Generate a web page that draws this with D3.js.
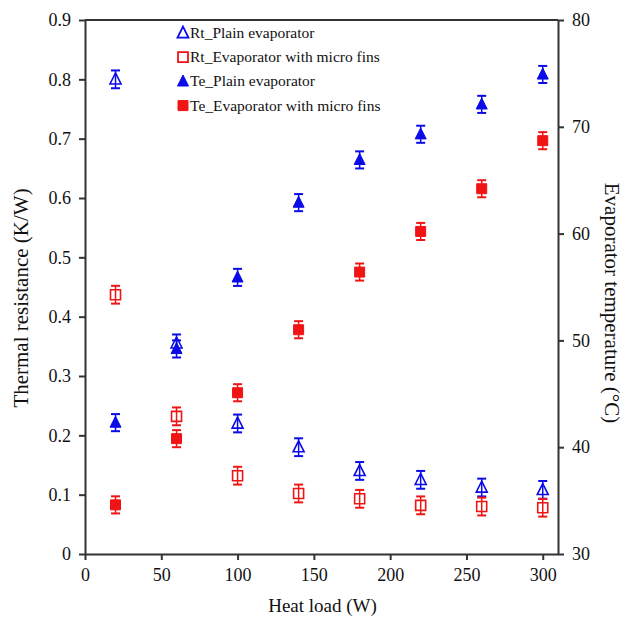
<!DOCTYPE html>
<html><head><meta charset="utf-8">
<script src="https://cdn.jsdelivr.net/npm/d3@7"></script>
<style>
html,body{margin:0;padding:0;background:#fff;}
svg text{font-family:"Liberation Serif","Times New Roman",serif;fill:#111;}
</style></head>
<body>
<svg id="chart" width="623" height="619"></svg>
<script>
const heatLoad = [20, 60, 100, 140, 180, 220, 260, 300];
const rtPlain = [0.800, 0.355, 0.220, 0.180, 0.140, 0.125, 0.112, 0.108];
const rtFins  = [0.437, 0.232, 0.132, 0.102, 0.093, 0.082, 0.080, 0.078];
const tePlain = [42.3, 49.2, 55.9, 62.9, 66.9, 69.3, 72.1, 74.9];
const teFins  = [34.6, 40.8, 45.1, 51.0, 56.4, 60.2, 64.2, 68.7];
const rtErr = 0.015;
const teErr = 0.8;
const xTicks = [0, 50, 100, 150, 200, 250, 300];
const yLeftTicks = [0, 0.1, 0.2, 0.3, 0.4, 0.5, 0.6, 0.7, 0.8, 0.9];
const yRightTicks = [30, 40, 50, 60, 70, 80];
const legendLabels = ["Rt_Plain evaporator", "Rt_Evaporator with micro fins", "Te_Plain evaporator", "Te_Evaporator with micro fins"];

const svg = d3.select("#chart");
const L = 85, R = 558, T = 20, B = 554;
const x = d3.scaleLinear().domain([0, 310]).range([L, R]);
const yL = d3.scaleLinear().domain([0, 0.9]).range([B, T]);
const yR = d3.scaleLinear().domain([30, 80]).range([B, T]);

const blue = "#0b0be8", red = "#f01414", axisCol = "#333";

// frame top
svg.append("line").attr("x1", L).attr("x2", R).attr("y1", T).attr("y2", T)
  .attr("stroke", axisCol).attr("stroke-width", 2);

function styleAxis(g) {
  g.select(".domain").attr("stroke", axisCol).attr("stroke-width", 2);
  g.selectAll(".tick line").attr("stroke", axisCol).attr("stroke-width", 2);
  g.selectAll(".tick text").attr("font-size", 18).attr("font-family", "Liberation Serif").attr("fill", "#111");
}

const gx = svg.append("g").attr("transform", `translate(0,${B})`)
  .call(d3.axisBottom(x).tickValues(xTicks).tickSize(6).tickSizeOuter(0).tickPadding(8).tickFormat(d3.format("d")));
styleAxis(gx);

const gyl = svg.append("g").attr("transform", `translate(${L},0)`)
  .call(d3.axisLeft(yL).tickValues(yLeftTicks).tickSize(6).tickSizeOuter(0).tickPadding(8).tickFormat(d => d === 0 ? "0" : d3.format(".1f")(d)));
styleAxis(gyl);

const gyr = svg.append("g").attr("transform", `translate(${R},0)`)
  .call(d3.axisRight(yR).tickValues(yRightTicks).tickSize(6).tickSizeOuter(0).tickPadding(8).tickFormat(d3.format("d")));
styleAxis(gyr);

// titles
svg.append("text").attr("x", (L + R) / 2 + 1).attr("y", 612).attr("text-anchor", "middle")
  .attr("font-size", 19).text("Heat load (W)");
svg.append("text").attr("transform", `translate(28,298) rotate(-90)`).attr("text-anchor", "middle")
  .attr("font-size", 21).text("Thermal resistance (K/W)");
svg.append("text").attr("transform", `translate(605,303) rotate(90)`).attr("text-anchor", "middle")
  .attr("font-size", 21).text("Evaporator temperature (\u00B0C)");

const triPath = s => `M0,${-s * 0.58}L${s * 0.5},${s * 0.42}L${-s * 0.5},${s * 0.42}Z`;
const sqPath = s => `M${-s / 2},${-s / 2}h${s}v${s}h${-s}Z`;

const series = [
  { vals: rtPlain, err: rtErr, y: yL, color: blue, shape: "tri", filled: false },
  { vals: rtFins, err: rtErr, y: yL, color: red, shape: "sq", filled: false },
  { vals: tePlain, err: teErr, y: yR, color: blue, shape: "tri", filled: true },
  { vals: teFins, err: teErr, y: yR, color: red, shape: "sq", filled: true }
];

series.forEach(s => {
  const g = svg.append("g");
  const data = heatLoad.map((h, i) => ({ h, v: s.vals[i] }));
  const pts = g.selectAll("g.pt").data(data).enter().append("g")
    .attr("transform", d => `translate(${x(d.h)},0)`);
  // error bars
  pts.append("line").attr("x1", 0).attr("x2", 0)
    .attr("y1", d => s.y(d.v + s.err)).attr("y2", d => s.y(d.v - s.err))
    .attr("stroke", s.color).attr("stroke-width", 1.5);
  pts.append("line").attr("x1", -4.5).attr("x2", 4.5)
    .attr("y1", d => s.y(d.v + s.err)).attr("y2", d => s.y(d.v + s.err))
    .attr("stroke", s.color).attr("stroke-width", 2);
  pts.append("line").attr("x1", -4.5).attr("x2", 4.5)
    .attr("y1", d => s.y(d.v - s.err)).attr("y2", d => s.y(d.v - s.err))
    .attr("stroke", s.color).attr("stroke-width", 2);
  pts.append("path")
    .attr("transform", d => `translate(0,${s.y(d.v)})`)
    .attr("d", s.shape === "tri" ? triPath(11) : sqPath(10))
    .attr("fill", s.filled ? s.color : "none")
    .attr("stroke", s.color).attr("stroke-width", s.filled ? 1 : 1.6);
});

// legend
const lg = svg.append("g");
legendLabels.forEach((lab, i) => {
  const s = series[i];
  const yy = 33 + i * 24.2;
  lg.append("path").attr("transform", `translate(183,${yy})`)
    .attr("d", s.shape === "tri" ? triPath(11) : sqPath(10))
    .attr("fill", s.filled ? s.color : "none")
    .attr("stroke", s.color).attr("stroke-width", s.filled ? 1 : 1.8);
  lg.append("text").attr("x", 190).attr("y", yy + 5).attr("font-size", 15.5).text(lab);
});
</script>
</body></html>
